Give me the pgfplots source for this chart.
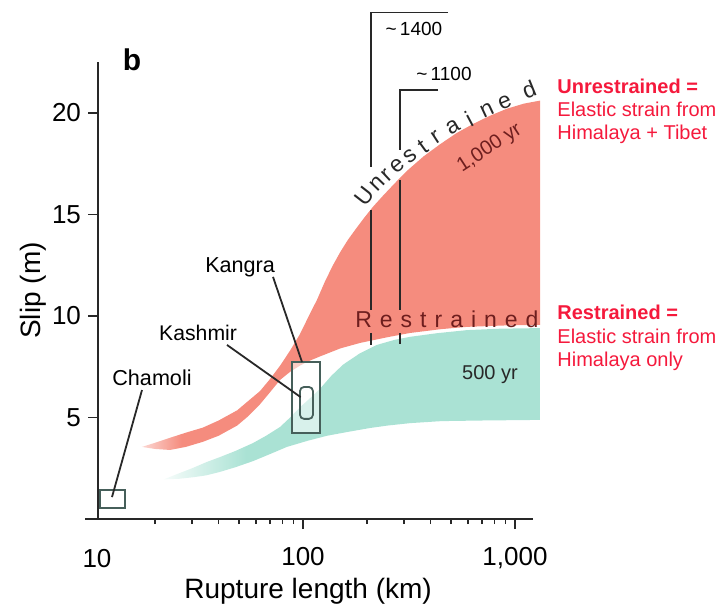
\documentclass[border=0pt]{standalone}
\usepackage{pgfplots}
\pgfplotsset{compat=1.18}
\usepackage{fontspec}
\setmainfont{Liberation Sans}
\setsansfont{Liberation Sans}
\definecolor{redfill}{RGB}{245,140,126}
\definecolor{tealfill}{RGB}{170,226,212}
\definecolor{annred}{RGB}{245,25,60}
\definecolor{axisgray}{RGB}{40,40,40}
\definecolor{boxgray}{RGB}{70,95,90}
\definecolor{brownred}{RGB}{110,30,30}
\pgfdeclarehorizontalshading{redfade}{100bp}{color(0bp)=(redfill!35); color(25bp)=(redfill!35); color(30bp)=(redfill); color(100bp)=(redfill)}
\pgfdeclarehorizontalshading{tealfade}{100bp}{color(0bp)=(tealfill!10); color(25bp)=(tealfill!10); color(31bp)=(tealfill!60); color(36bp)=(tealfill); color(100bp)=(tealfill)}
\begin{document}
\begin{tikzpicture}
\useasboundingbox (0pt,0pt) rectangle (357.5pt,303.5pt);
\begin{axis}[
  at={(49pt,44pt)}, anchor=south west,
  scale only axis, width=217.5pt, height=228.5pt,
  xmode=log, xmin=10.79, xmax=1216, ymin=0, ymax=22.5,
  axis lines=left,
  axis line style={-, line width=1.2pt, color=axisgray},
  xtick={100,1000}, xticklabels={100,{1,000}},
  minor xtick={20,30,40,50,60,70,80,90,200,300,400,500,600,700,800,900},
  ytick={5,10,15,20},
  tick align=outside, major tick length=5pt, minor tick length=2.5pt,
  every tick/.style={line width=0.8pt, color=axisgray},
  tick label style={font=\fontsize{13}{15}\selectfont},
  x tick label style={yshift=-5.5pt},
  /pgf/number format/assume math mode=true,
  xlabel={Rupture length (km)},
  ylabel={Slip (m)},
  every axis x label/.style={at={(axis description cs:0.483,-0.157)}, anchor=center, font=\fontsize{14}{16}\selectfont},
  every axis y label/.style={at={(axis description cs:-0.149,0.5)}, rotate=90, anchor=center, font=\fontsize{14}{16}\selectfont},
  clip=false,
]
% Unrestrained (1,000 yr) band
\addplot[shading=redfade, draw=none] coordinates {
 (17.4,3.55) (20,3.75) (23.6,4.0) (28,4.25) (33.7,4.5) (40,4.85) (48.9,5.35) (55,5.8)
 (62.7,6.3) (70,6.9) (78,7.55) (87,8.3) (96.7,9.1) (106,9.95) (116.5,10.8) (127,11.7)
 (138.5,12.5) (150,13.15) (163,13.75) (178,14.3) (195,14.85) (215,15.4) (240,15.95)
 (275,16.6) (310,17.15) (370,17.85) (443,18.45) (530,19.0) (634,19.45) (760,19.85)
 (916,20.2) (1100,20.45) (1313,20.6)
 (1313,9.56) (900,9.53) (594,9.46) (450,9.35) (320,9.16) (250,8.95) (186,8.67) (150,8.4)
 (120,8.0) (105,7.75) (96.7,7.55) (87,7.25) (78,6.85) (70,6.25) (62.7,5.65) (55,5.05)
 (48.9,4.6) (40,4.1) (33.7,3.8) (28,3.55) (23.6,3.4) (20,3.45) (17.4,3.55)};
% Restrained (500 yr) band
\addplot[shading=tealfade, draw=none] coordinates {
 (22,1.95) (26,2.25) (30,2.5) (35,2.8) (40.6,3.05) (48,3.35) (58.1,3.74) (67,4.1)
 (77.9,4.53) (87,5.0) (96.7,5.5) (108,5.95) (120,6.4) (136,7.05) (154.5,7.6) (185,8.15)
 (223,8.57) (270,8.82) (320,8.97) (430,9.15) (594,9.3) (850,9.37) (1313,9.4)
 (1313,4.88) (700,4.85) (450,4.82) (320,4.72) (250,4.6) (207,4.48) (165,4.3) (130,4.1)
 (105,3.85) (84,3.55) (70,3.2) (58.1,2.85) (48,2.55) (40.6,2.32) (35,2.15) (30,2.05) (26,1.98) (22,1.95)};

% left extension of the x axis line and the "10" tick label
\draw[axisgray, line width=1.2pt] (axis cs:10.79,0) -- (axis cs:9.37,0);
\node[anchor=north, font=\fontsize{13}{15}\selectfont, yshift=-11.5pt] at (axis cs:10.67,0) {10};

% event boxes
\draw[draw=boxgray, line width=0.9pt, fill=white, fill opacity=0.55] (axis cs:88.7,4.24) rectangle (axis cs:120.3,7.73);
\draw[draw=boxgray, line width=0.9pt, rounded corners=2pt] (axis cs:96.8,4.93) rectangle (axis cs:111.4,6.5);
\draw[draw=boxgray, line width=0.9pt, fill=white, fill opacity=0.5] (axis cs:11.03,0.54) rectangle (axis cs:14.45,1.43);
% leader lines
\draw[axisgray, line width=0.9pt] (axis cs:72.2,11.92) -- (axis cs:98.9,7.73);
\draw[axisgray, line width=0.9pt] (axis cs:43.8,8.57) -- (axis cs:97.5,6.0);
\draw[axisgray, line width=0.9pt] (axis cs:17.4,6.35) -- (axis cs:12.56,1.08);
% event labels
\node[font=\fontsize{10.8}{12}\selectfont] at (axis cs:50.5,12.37) {Kangra};
\node[font=\fontsize{10.6}{12}\selectfont] at (axis cs:32,9.16) {Kashmir};
\node[font=\fontsize{10.8}{12}\selectfont] at (axis cs:19.4,6.95) {Chamoli};
% panel letter
\node[font=\fontsize{15}{17}\selectfont\bfseries] at (axis cs:15.6,22.6) {b};

% brackets
\draw[axisgray, line width=0.8pt] (axis cs:483,24.93) -- (axis cs:209,24.93) -- (axis cs:209,17.34);
\draw[axisgray, line width=0.8pt] (axis cs:209,15.22) -- (axis cs:209,10.30);
\draw[axisgray, line width=0.8pt] (axis cs:209,9.16) -- (axis cs:209,8.57);
\draw[axisgray, line width=0.8pt] (axis cs:433.5,21.13) -- (axis cs:287,21.13) -- (axis cs:287,18.18);
\draw[axisgray, line width=0.8pt] (axis cs:287,16.70) -- (axis cs:287,10.30);
\draw[axisgray, line width=0.8pt] (axis cs:287,9.16) -- (axis cs:287,8.62);
\node[font=\fontsize{9.5}{11}\selectfont] at (axis cs:333.9,24.14) {\textasciitilde\,1400};
\node[font=\fontsize{9.5}{11}\selectfont] at (axis cs:462.6,21.92) {\textasciitilde\,1100};

% Unrestrained along the curve
\node[font=\fontsize{11.5}{13}\selectfont, color=axisgray, inner sep=0pt, rotate=52] at (axis cs:194,15.91) {U};
\node[font=\fontsize{11.5}{13}\selectfont, color=axisgray, inner sep=0pt, rotate=46] at (axis cs:223.4,16.50) {n};
\node[font=\fontsize{11.5}{13}\selectfont, color=axisgray, inner sep=0pt, rotate=43] at (axis cs:249,16.90) {r};
\node[font=\fontsize{11.5}{13}\selectfont, color=axisgray, inner sep=0pt, rotate=40] at (axis cs:280.5,17.39) {e};
\node[font=\fontsize{11.5}{13}\selectfont, color=axisgray, inner sep=0pt, rotate=38] at (axis cs:319.6,17.88) {s};
\node[font=\fontsize{11.5}{13}\selectfont, color=axisgray, inner sep=0pt, rotate=36] at (axis cs:368,18.33) {t};
\node[font=\fontsize{11.5}{13}\selectfont, color=axisgray, inner sep=0pt, rotate=33] at (axis cs:424,18.82) {r};
\node[font=\fontsize{11.5}{13}\selectfont, color=axisgray, inner sep=0pt, rotate=30] at (axis cs:509.8,19.31) {a};
\node[font=\fontsize{11.5}{13}\selectfont, color=axisgray, inner sep=0pt, rotate=28] at (axis cs:606.7,19.70) {i};
\node[font=\fontsize{11.5}{13}\selectfont, color=axisgray, inner sep=0pt, rotate=25] at (axis cs:737.7,20.15) {n};
\node[font=\fontsize{11.5}{13}\selectfont, color=axisgray, inner sep=0pt, rotate=23] at (axis cs:897,20.49) {e};
\node[font=\fontsize{11.5}{13}\selectfont, color=axisgray, inner sep=0pt, rotate=22] at (axis cs:1164,21.13) {d};

\node[font=\fontsize{10}{12}\selectfont, color=brownred, rotate=33, inner sep=0.5pt] at (axis cs:760,18.25) {1,000 yr};
\node[font=\fontsize{11.5}{13}\selectfont, color=brownred, anchor=base, inner sep=0pt] at (axis cs:477.5,9.45)
  {R\hspace{4pt}e\hspace{4pt}s\hspace{4pt}t\hspace{4pt}r\hspace{4pt}a\hspace{4pt}i\hspace{4pt}n\hspace{4pt}e\hspace{4pt}d};
\node[font=\fontsize{10}{12}\selectfont, color=axisgray] at (axis cs:762,7.09) {500 yr};
\end{axis}
% right-hand annotations
\node[anchor=base west, inner sep=0pt, color=annred, font=\fontsize{10}{12}\selectfont\bfseries] at (278.5pt,257pt) {Unrestrained =};
\node[anchor=base west, inner sep=0pt, color=annred, font=\fontsize{10}{12}\selectfont] at (278.5pt,245.5pt) {Elastic strain from};
\node[anchor=base west, inner sep=0pt, color=annred, font=\fontsize{10}{12}\selectfont] at (278.5pt,234pt) {Himalaya + Tibet};
\node[anchor=base west, inner sep=0pt, color=annred, font=\fontsize{10}{12}\selectfont\bfseries] at (278.5pt,144pt) {Restrained =};
\node[anchor=base west, inner sep=0pt, color=annred, font=\fontsize{10}{12}\selectfont] at (278.5pt,132pt) {Elastic strain from};
\node[anchor=base west, inner sep=0pt, color=annred, font=\fontsize{10}{12}\selectfont] at (278.5pt,120.5pt) {Himalaya only};
\end{tikzpicture}
\end{document}
